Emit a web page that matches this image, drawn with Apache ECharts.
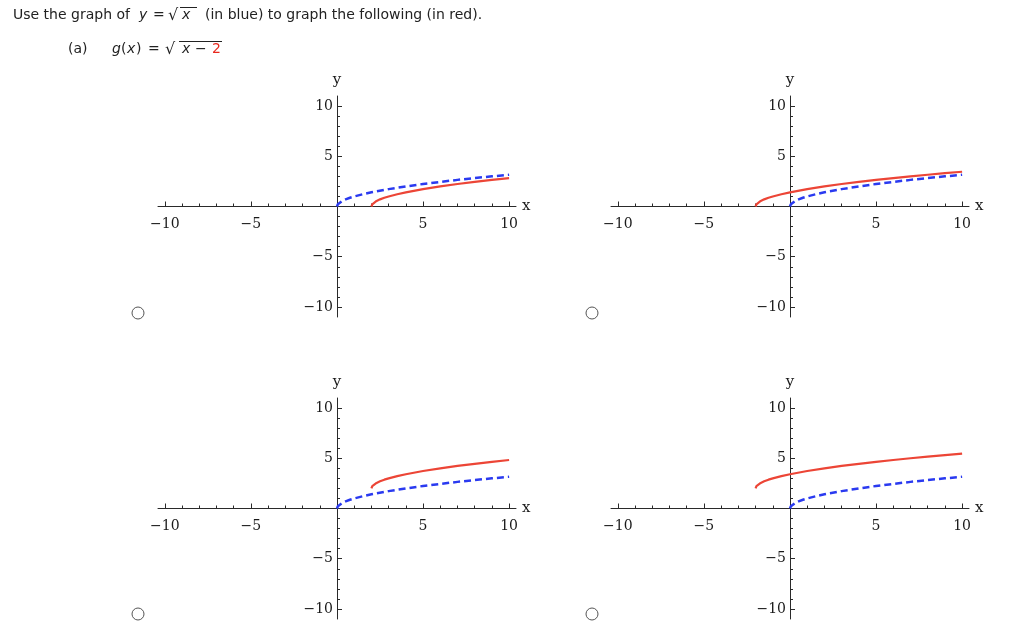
<!DOCTYPE html>
<html>
<head>
<meta charset="utf-8">
<script src="https://cdn.jsdelivr.net/npm/echarts@6/dist/echarts.min.js"></script>
<style>
  html, body { margin: 0; padding: 0; background: #fff; }
  #chart { width: 1024px; height: 641px; }
</style>
</head>
<body>
<div id="chart"></div>
<script>
// ------------------ data ------------------
// y = sqrt(x) (blue, dashed)
var blueX = [0, 0.05, 0.15, 0.3, 0.5, 0.75, 1, 1.5, 2, 3, 4, 5, 6, 7, 8, 9, 10];
var blueY = [0, 0.22, 0.39, 0.55, 0.71, 0.87, 1, 1.22, 1.41, 1.73, 2, 2.24, 2.45, 2.65, 2.83, 3, 3.16];

// candidate answers (red)
var redAX = [2, 2.05, 2.15, 2.3, 2.5, 2.75, 3, 3.5, 4, 5, 6, 7, 8, 9, 10];
var redAY = [0, 0.22, 0.39, 0.55, 0.71, 0.87, 1, 1.22, 1.41, 1.73, 2, 2.24, 2.45, 2.65, 2.83];

var redBX = [-2, -1.95, -1.85, -1.7, -1.5, -1.25, -1, -0.5, 0, 1, 2, 3, 4, 5, 6, 7, 8, 9, 10];
var redBY = [0, 0.22, 0.39, 0.55, 0.71, 0.87, 1, 1.22, 1.41, 1.73, 2, 2.24, 2.45, 2.65, 2.83, 3, 3.16, 3.32, 3.46];

var redCX = [2, 2.05, 2.15, 2.3, 2.5, 2.75, 3, 3.5, 4, 5, 6, 7, 8, 9, 10];
var redCY = [2, 2.22, 2.39, 2.55, 2.71, 2.87, 3, 3.22, 3.41, 3.73, 4, 4.24, 4.45, 4.65, 4.83];

var redDX = [-2, -1.95, -1.85, -1.7, -1.5, -1.25, -1, -0.5, 0, 1, 2, 3, 4, 5, 6, 7, 8, 9, 10];
var redDY = [2, 2.22, 2.39, 2.55, 2.71, 2.87, 3, 3.22, 3.41, 3.73, 4, 4.24, 4.45, 4.65, 4.83, 5, 5.16, 5.32, 5.46];

var majorTicks = [-10, -5, 5, 10];
var minorTicks = [-10, -9, -8, -7, -6, -5, -4, -3, -2, -1, 1, 2, 3, 4, 5, 6, 7, 8, 9, 10];

// ------------------ layout ------------------
var GRID_W = 358, GRID_H = 221;
var PANELS = [
    {left: 158, top: 96, redX: redAX, redY: redAY},
    {left: 611, top: 96, redX: redBX, redY: redBY},
    {left: 158, top: 398, redX: redCX, redY: redCY},
    {left: 611, top: 398, redX: redDX, redY: redDY}
];
var RADIOS = [[138, 313], [592, 313], [138, 614], [592, 614]];

var SERIF = '"DejaVu Serif", "Liberation Serif", serif';
var SANS = '"DejaVu Sans", Verdana, sans-serif';
var AXIS_COLOR = '#2a2a2a';
var LABEL_COLOR = '#1a1a1a';
var TEXT_COLOR = '#222';

function fmt(v) {
    return v < 0 ? '\u2212' + Math.abs(v) : String(v);
}

function zip(xs, ys) {
    var out = [];
    for (var i = 0; i < xs.length; i++) {
        out.push([xs[i], ys[i]]);
    }
    return out;
}

var grids = [], xAxes = [], yAxes = [], series = [];

PANELS.forEach(function (p, i) {
    grids.push({left: p.left, top: p.top, width: GRID_W, height: GRID_H});

    // axes are pulled into the middle of the grid with a negative offset (they cross at 0)
    xAxes.push({
        type: 'value', gridIndex: i, min: -10.4, max: 10.4,
        position: 'bottom', offset: -GRID_H / 2,
        name: 'x', nameLocation: 'end', nameGap: 6,
        nameTextStyle: {fontFamily: SERIF, fontSize: 15, color: LABEL_COLOR, padding: [4, 0, 0, 0]},
        axisLine: {onZero: false, lineStyle: {color: AXIS_COLOR, width: 1}},
        axisTick: {show: true, inside: true, length: 3, customValues: minorTicks, lineStyle: {color: AXIS_COLOR}},
        axisLabel: {customValues: majorTicks, formatter: fmt, margin: 11,
            fontFamily: SERIF, fontSize: 14, color: LABEL_COLOR},
        splitLine: {show: false}
    });
    // second x axis: only the longer major ticks
    xAxes.push({
        type: 'value', gridIndex: i, min: -10.4, max: 10.4,
        position: 'bottom', offset: -GRID_H / 2,
        axisLine: {show: false, onZero: false},
        axisTick: {show: true, inside: true, length: 5, customValues: majorTicks, lineStyle: {color: AXIS_COLOR}},
        axisLabel: {show: false},
        splitLine: {show: false}
    });

    yAxes.push({
        type: 'value', gridIndex: i, min: -11, max: 11,
        position: 'left', offset: -GRID_W / 2,
        name: 'y', nameLocation: 'end', nameGap: 8,
        nameTextStyle: {fontFamily: SERIF, fontSize: 15, color: LABEL_COLOR},
        axisLine: {onZero: false, lineStyle: {color: AXIS_COLOR, width: 1}},
        axisTick: {show: true, inside: true, length: 3, customValues: minorTicks, lineStyle: {color: AXIS_COLOR}},
        axisLabel: {customValues: majorTicks, formatter: fmt, margin: 4,
            fontFamily: SERIF, fontSize: 14, color: LABEL_COLOR},
        splitLine: {show: false}
    });
    yAxes.push({
        type: 'value', gridIndex: i, min: -11, max: 11,
        position: 'left', offset: -GRID_W / 2,
        axisLine: {show: false, onZero: false},
        axisTick: {show: true, inside: true, length: 5, customValues: majorTicks, lineStyle: {color: AXIS_COLOR}},
        axisLabel: {show: false},
        splitLine: {show: false}
    });

    series.push({
        type: 'line', xAxisIndex: i * 2, yAxisIndex: i * 2,
        data: zip(blueX, blueY), showSymbol: false, silent: true,
        lineStyle: {color: '#2a3af0', width: 2.5, type: [7, 4]}
    });
    series.push({
        type: 'line', xAxisIndex: i * 2, yAxisIndex: i * 2,
        data: zip(p.redX, p.redY), showSymbol: false, silent: true,
        lineStyle: {color: '#ec4536', width: 2.2}
    });
});

// ------------------ header + radio buttons ------------------
function txt(x, y, s, opt) {
    opt = opt || {};
    return {
        type: 'text', x: x, y: y,
        style: {
            text: s, fill: opt.fill || TEXT_COLOR,
            font: (opt.italic ? 'italic ' : '') + (opt.size || 14) + 'px ' + SANS,
            align: 'left', verticalAlign: 'middle'
        }
    };
}

var L1 = 15, L2 = 49;
var graphic = [
    txt(13, L1, 'Use the graph of'),
    txt(139, L1, 'y', {italic: true}),
    txt(153, L1, '='),
    txt(168, L1 + 1, '\u221a', {size: 16}),
    txt(182, L1, 'x', {italic: true}),
    {type: 'line', shape: {x1: 180, y1: 7.5, x2: 197, y2: 7.5}, style: {stroke: TEXT_COLOR, lineWidth: 1}},
    txt(205, L1, '(in blue) to graph the following (in red).'),

    txt(68, L2, '(a)'),
    txt(112, L2, 'g', {italic: true}),
    txt(121, L2, '('),
    txt(127, L2, 'x', {italic: true}),
    txt(136, L2, ')'),
    txt(148, L2, '='),
    txt(165, L2 + 1, '\u221a', {size: 16}),
    txt(182, L2, 'x', {italic: true}),
    txt(195, L2, '\u2212'),
    txt(212, L2, '2', {fill: '#e8281e'}),
    {type: 'line', shape: {x1: 179, y1: 41.5, x2: 222, y2: 41.5}, style: {stroke: TEXT_COLOR, lineWidth: 1}}
];
RADIOS.forEach(function (c) {
    graphic.push({
        type: 'circle', shape: {cx: c[0], cy: c[1], r: 6},
        style: {fill: '#fff', stroke: '#555', lineWidth: 1}
    });
});

var myChart = echarts.init(document.getElementById('chart'), null, {renderer: 'canvas'});
var option = {
    animation: false,
    backgroundColor: '#fff',
    grid: grids,
    xAxis: xAxes,
    yAxis: yAxes,
    series: series,
    graphic: graphic
};
myChart.setOption(option);
</script>
</body>
</html>
